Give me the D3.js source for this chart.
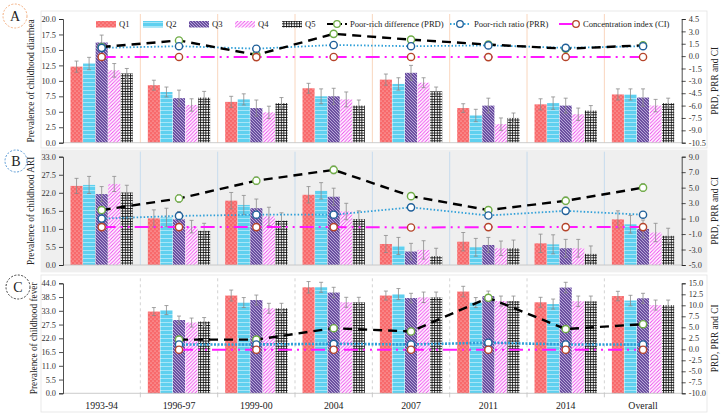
<!DOCTYPE html>
<html><head><meta charset="utf-8">
<script src="https://cdn.jsdelivr.net/npm/d3@7"></script>
<style>body{margin:0;background:#fff}svg{display:block}text{font-family:"Liberation Serif","Times New Roman",serif}</style>
</head><body><svg id="c" width="724" height="414"></svg>
<script>
const categories = ["1993-94","1996-97","1999-00","2004","2007","2011","2014","Overall"];
const quintiles = ["Q1","Q2","Q3","Q4","Q5"];
const leftTicksA = [0,2.5,5,7.5,10,12.5,15,17.5,20];
const leftTicksB = [0,5.5,11,16.5,22,27.5,33];
const leftTicksC = [0,5.5,11,16.5,22,27.5,33,38.5,44];
const rightTicksA = [-10.5,-9,-7.5,-6,-4.5,-3,-1.5,0,1.5,3,4.5];
const rightTicksB = [-5,-3,-1,1,3,5,7,9];
const rightTicksC = [-10,-7.5,-5,-2.5,0,2.5,5,7.5,10,12.5,15];

// Panel A: diarrhea
const diarrheaQ = [[12.3,12.8,16.2,11.7,11.2],[9.3,8.2,7.2,6.1,7.3],[6.6,7.0,5.6,4.9,6.4],[8.8,7.5,7.5,7.0,6.0],[10.2,9.5,11.3,9.7,8.3],[5.6,4.4,6.0,3.0,4.0],[6.2,6.4,6.0,4.6,5.2],[7.8,7.8,7.3,6.0,6.4]];
const diarrheaErr = [[0.9,1.0,1.2,1.1,0.8],[0.8,0.8,1.3,1.0,1.0],[0.9,0.9,1.3,1.0,0.9],[0.8,1.2,1.3,1.2,0.9],[0.9,1.0,1.2,0.8,0.7],[0.7,1.0,1.2,1.0,0.8],[0.9,1.0,1.2,1.0,0.8],[0.9,0.9,1.4,1.0,0.8]];
const diarrheaPRD = [1.1,1.9,0.15,2.7,2.0,1.4,0.9,1.3];
const diarrheaPRR = [1.0,1.2,0.9,1.35,1.2,1.3,1.0,1.2];
const diarrheaCI = [-0.1,-0.1,-0.12,-0.1,-0.1,-0.12,-0.1,-0.11];

// Panel B: ARI
const ariQ = [[24.1,24.4,21.6,24.7,22.1],[14.2,14.5,13.9,11.7,10.4],[19.6,18.3,17.3,14.8,13.5],[21.4,22.6,20.8,16.3,14.0],[6.4,5.8,4.1,4.6,2.7],[7.1,5.4,6.1,5.1,5.1],[6.6,6.3,5.1,5.1,3.4],[13.9,12.4,11.0,9.9,8.9]];
const ariErr = [[2.3,2.6,2.3,2.3,2.2],[2.6,2.8,2.4,1.9,2.3],[2.5,2.9,2.8,2.8,2.4],[2.5,2.5,2.6,2.5,2.5],[2.6,2.6,2.5,2.8,2.4],[2.8,2.7,2.3,2.2,2.5],[2.8,2.9,2.7,2.7,2.4],[2.6,2.7,2.7,2.8,2.3]];
const ariPRD = [2.1,3.6,5.9,7.3,3.9,2.1,3.3,5.0];
const ariPRDErr = [0.4,0.5,0.5,0.5,0.4,0.4,0.5,0.5];
const ariPRR = [1.0,1.35,1.5,1.5,2.45,1.4,2.0,1.5];
const ariCI = [-0.1,-0.1,-0.1,-0.1,-0.15,-0.1,-0.1,-0.1];

// Panel C: fever
const feverQ = [null,[32.7,33.3,29.3,28.3,28.7],[39.1,36.3,37.3,34.0,34.0],[42.4,42.4,40.3,36.4,36.4],[39.1,39.7,38.1,38.4,38.4],[40.7,36.3,38.9,36.9,36.9],[36.4,35.7,42.3,36.8,36.8],[38.9,37.1,38.0,35.3,35.3]];
const feverErr = [null,[1.6,1.8,1.6,1.8,1.6],[2.2,2.0,2.0,2.0,2.0],[2.3,2.0,2.1,2.0,2.0],[1.8,2.2,1.9,2.1,2.1],[2.1,2.0,2.0,2.0,2.0],[2.0,2.0,2.1,2.1,2.1],[1.9,2.1,2.0,2.0,2.0]];
const feverPRD = [null,2.2,2.2,4.8,4.05,11.7,4.6,5.7];
const feverPRR = [null,1.1,1.1,1.25,1.1,1.5,1.1,1.1];
const feverCI = [null,-0.1,-0.1,-0.1,-0.1,-0.1,-0.1,-0.1];

const svg = d3.select("#c");
const defs = svg.append("defs");
function pat(id, w, h, bg, draw){
  const p = defs.append("pattern").attr("id",id).attr("patternUnits","userSpaceOnUse").attr("width",w).attr("height",h);
  p.append("rect").attr("width",w).attr("height",h).attr("fill",bg);
  draw(p);
}
pat("pQ1",4,4,"#f8696b",p=>{p.append("circle").attr("cx",1).attr("cy",1).attr("r",0.55).attr("fill","#fde0e0");p.append("circle").attr("cx",3).attr("cy",3).attr("r",0.55).attr("fill","#fde0e0");});
pat("pQ2",4,4,"#5fd0ef",p=>{p.append("path").attr("d","M0,3 L1,2 L2,3 L3,2 L4,3").attr("stroke","#d8f4fc").attr("stroke-width",0.6).attr("fill","none");});
pat("pQ3",3,3,"#6b4fa0",p=>{p.append("path").attr("d","M0,0 L3,3 M-1,2 L1,4 M2,-1 L4,1").attr("stroke","#d9cff0").attr("stroke-width",0.7);});
pat("pQ4",3.5,3.5,"#ffffff",p=>{p.append("path").attr("d","M0,3.5 L3.5,0 M-1,1 L1,-1 M2.5,4.5 L4.5,2.5").attr("stroke","#ee44ee").attr("stroke-width",0.9);});
pat("pQ5",2.6,2.6,"#ffffff",p=>{p.append("path").attr("d","M0,0.5 H2.6 M0.5,0 V2.6").attr("stroke","#111").attr("stroke-width",0.9);});
const fills = quintiles.map(q=>"url(#p"+q+")");

const X0 = 63, X1 = 681.7;
const x = d3.scaleBand().domain(categories).range([X0,X1]).padding(0);
const xq = d3.scaleBand().domain(quintiles).range([7.5, x.bandwidth()-7.5]).paddingInner(0.04);
const cx = c => x(c) + x.bandwidth()/2;
const fmt = d => d.toFixed(1);

const panels = [
  {key:"A", box:[41,11,666,137], bg:"#ffffff", boxStroke:"#e3e3e3", yr:[142.7,19], dom:[0,20], lt:leftTicksA, rdom:[-10.5,4.5], rt:rightTicksA,
   Q:diarrheaQ, E:diarrheaErr, PRD:diarrheaPRD, PRDE:null, PRR:diarrheaPRR, CI:diarrheaCI, sep:"#f8cbad", sepDash:null,
   title:"Prevalence of childhood  diarrhea", circ:{x:15,y:16,r:12,c:"#f4b183"}},
  {key:"B", box:[41,150,666,122], bg:"#efefef", boxStroke:"#efefef", yr:[265,156.7], dom:[0,33], lt:leftTicksB, rdom:[-5,9], rt:rightTicksB,
   Q:ariQ, E:ariErr, PRD:ariPRD, PRDE:ariPRDErr, PRR:ariPRR, CI:ariCI, sep:"#bdd7ee", sepDash:null,
   title:"Prevalence of childhood  ARI", circ:{x:16,y:161,r:11,c:"#5b9bd5"}},
  {key:"C", box:[41,275,666,137], bg:"#ffffff", boxStroke:"#e3e3e3", yr:[393.3,283.3], dom:[0,44], lt:leftTicksC, rdom:[-10,15], rt:rightTicksC,
   Q:feverQ, E:feverErr, PRD:feverPRD, PRDE:null, PRR:feverPRR, CI:feverCI, sep:"#c8c8c8", sepDash:"3,3",
   title:"Prevalence of childhood  fever", circ:{x:18,y:287,r:12,c:"#404040"}}
];

panels.forEach((P,pi)=>{
  const g = svg.append("g");
  g.append("rect").attr("x",P.box[0]).attr("y",P.box[1]).attr("width",P.box[2]).attr("height",P.box[3]).attr("fill",P.bg).attr("stroke",P.boxStroke).attr("stroke-width",0.8);
  const y = d3.scaleLinear().domain(P.dom).range(P.yr);
  const yR = d3.scaleLinear().domain(P.rdom).range(P.yr);
  // separators
  categories.slice(1).forEach(c=>{
    g.append("line").attr("x1",x(c)).attr("x2",x(c)).attr("y1",P.yr[1]-5).attr("y2",P.yr[0]).attr("stroke",P.sep).attr("stroke-width",0.8).attr("stroke-dasharray",P.sepDash);
  });
  // bars
  categories.forEach((c,i)=>{
    if(!P.Q[i]) return;
    quintiles.forEach((q,j)=>{
      const v = P.Q[i][j];
      g.append("rect").attr("x",x(c)+xq(q)).attr("width",xq.bandwidth()).attr("y",y(v)).attr("height",y(0)-y(v)).attr("fill",fills[j]);
    });
  });
  // error bars
  categories.forEach((c,i)=>{
    if(!P.Q[i]) return;
    quintiles.forEach((q,j)=>{
      const v = P.Q[i][j], e = P.E[i][j];
      const xm = x(c)+xq(q)+xq.bandwidth()/2;
      g.append("line").attr("x1",xm).attr("x2",xm).attr("y1",y(v-e)).attr("y2",y(v+e)).attr("stroke","#8c8c8c").attr("stroke-width",0.8);
      [v-e,v+e].forEach(t=>g.append("line").attr("x1",xm-2).attr("x2",xm+2).attr("y1",y(t)).attr("y2",y(t)).attr("stroke","#8c8c8c").attr("stroke-width",0.8));
    });
  });
  // baseline
  g.append("line").attr("x1",X0).attr("x2",X1).attr("y1",y(0)).attr("y2",y(0)).attr("stroke","#bfbfbf").attr("stroke-width",0.8);
  if(pi===2){
    categories.slice(1).forEach(c=>g.append("line").attr("x1",x(c)).attr("x2",x(c)).attr("y1",y(0)).attr("y2",y(0)+4).attr("stroke","#bfbfbf").attr("stroke-width",0.8));
  }
  // axes
  const la = g.append("g").attr("transform",`translate(${X0},0)`).call(d3.axisLeft(y).tickValues(P.lt).tickFormat(fmt).tickSize(4).tickPadding(3));
  const ra = g.append("g").attr("transform",`translate(${X1},0)`).call(d3.axisRight(yR).tickValues(P.rt).tickFormat(fmt).tickSize(4).tickPadding(3));
  [la,ra].forEach(a=>{a.select(".domain").attr("stroke","#222").attr("stroke-width",0.8);a.selectAll(".tick line").attr("stroke","#222").attr("stroke-width",0.8);a.selectAll("text").attr("font-size",8.3).attr("fill","#333").attr("font-family","Liberation Serif");});
  // lines
  const idx = categories.map((c,i)=>i);
  const mk = arr => d3.line().defined(i=>arr[i]!=null).x(i=>cx(categories[i])).y(i=>yR(arr[i]));
  g.append("path").attr("d",mk(P.CI)(idx)).attr("fill","none").attr("stroke","#ff19ff").attr("stroke-width",2).attr("stroke-dasharray","14,5,2,5,2,5");
  g.append("path").attr("d",mk(P.PRR)(idx)).attr("fill","none").attr("stroke","#2f9fd8").attr("stroke-width",pi===2?2.6:1.8).attr("stroke-dasharray",pi===2?"2,1.5":"1.5,2");
  g.append("path").attr("d",mk(P.PRD)(idx)).attr("fill","none").attr("stroke","#000").attr("stroke-width",2.4).attr("stroke-dasharray","9,6");
  // PRD error bars
  if(P.PRDE){
    idx.forEach(i=>{
      if(P.PRD[i]==null) return;
      const xm = cx(categories[i]), v=P.PRD[i], e=P.PRDE[i];
      g.append("line").attr("x1",xm).attr("x2",xm).attr("y1",yR(v-e)).attr("y2",yR(v+e)).attr("stroke","#8c8c8c").attr("stroke-width",0.8);
      [v-e,v+e].forEach(t=>g.append("line").attr("x1",xm-2).attr("x2",xm+2).attr("y1",yR(t)).attr("y2",yR(t)).attr("stroke","#8c8c8c").attr("stroke-width",0.8));
    });
  }
  const markers = [[P.PRD,"#70ad47"],[P.PRR,"#1f5f99"],[P.CI,"#b5442a"]];
  markers.forEach(([arr,col])=>{
    idx.forEach(i=>{
      if(arr[i]==null) return;
      g.append("circle").attr("cx",cx(categories[i])).attr("cy",yR(arr[i])).attr("r",3.6).attr("fill","#fff").attr("stroke",col).attr("stroke-width",1.4);
    });
  });
  // titles
  const mid = (P.yr[0]+P.yr[1])/2;
  g.append("text").attr("transform",`translate(${pi===2?37:34},${mid}) rotate(-90)`).attr("text-anchor","middle").attr("font-size",9.3).attr("fill","#222").text(P.title);
  g.append("text").attr("transform",`translate(718,${mid}) rotate(-90)`).attr("text-anchor","middle").attr("font-size",9.3).attr("fill","#222").text("PRD, PRR and CI");
  // panel letter
  g.append("circle").attr("cx",P.circ.x).attr("cy",P.circ.y).attr("r",P.circ.r).attr("fill","#fff").attr("stroke",P.circ.c).attr("stroke-width",1).attr("stroke-dasharray","2,1.5");
  g.append("text").attr("x",P.circ.x).attr("y",P.circ.y+5).attr("text-anchor","middle").attr("font-size",14).attr("fill","#222").text(P.key);
});

// x labels
svg.append("g").selectAll("text").data(categories).join("text")
  .attr("x",c=>cx(c)).attr("y",409).attr("text-anchor","middle").attr("font-size",9.8).attr("fill","#222").text(c=>c);

// legend
const leg = svg.append("g").attr("font-size",8.6).attr("fill","#222");
const qSw = [[96,"Q1"],[143,"Q2"],[189,"Q3"],[235,"Q4"],[282,"Q5"]];
qSw.forEach(([lx,t],j)=>{
  leg.append("rect").attr("x",lx).attr("y",21).attr("width",20).attr("height",6.5).attr("fill",fills[j]);
  leg.append("text").attr("x",lx+23).attr("y",27).text(t);
});
const lineLeg = [
  {x1:327,x2:347,c:"#000",w:2.2,d:"6,3",mc:"#70ad47",mx:337,t:"Poor-rich difference (PRD)",tx:350},
  {x1:450,x2:470,c:"#2f9fd8",w:1.8,d:"1.5,2",mc:"#1f5f99",mx:460,t:"Poor-rich ratio (PRR)",tx:474},
  {x1:559,x2:576,c:"#ff19ff",w:2,d:null,mc:"#b5442a",mx:576,t:"Concentration index (CI)",tx:583}
];
lineLeg.forEach(l=>{
  leg.append("line").attr("x1",l.x1).attr("x2",l.x2).attr("y1",24).attr("y2",24).attr("stroke",l.c).attr("stroke-width",l.w).attr("stroke-dasharray",l.d);
  leg.append("circle").attr("cx",l.mx).attr("cy",24).attr("r",3.3).attr("fill","#fff").attr("stroke",l.mc).attr("stroke-width",1.3);
  leg.append("text").attr("x",l.tx).attr("y",27).text(l.t);
});
</script></body></html>
